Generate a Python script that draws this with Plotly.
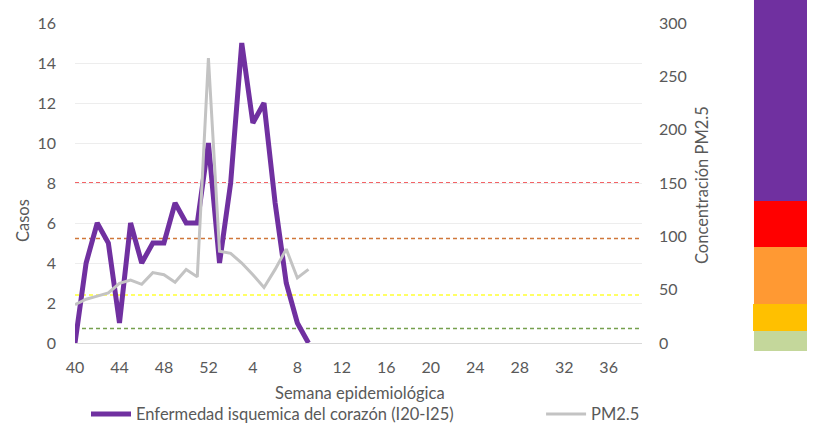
import plotly.graph_objects as go

# Epidemiological weeks: 40-52 of one year, then 1-39 of the next
weeks = [str(w) for w in list(range(40, 53)) + list(range(1, 40))]
tick_weeks = weeks[::4]

# Weekly cases of ischemic heart disease (I20-I25)
cases = [0, 4, 6, 5, 1, 6, 4, 5, 5, 7, 6, 6, 10, 4, 8, 15, 11, 12, 7, 3, 1, 0]

# Weekly PM2.5 concentration
pm25 = [36, 41, 44, 47, 56, 59, 55, 66, 64, 57, 69, 62, 267, 86, 84, 75,
        64, 52, 69, 88, 61, 69]

# PM2.5 reference levels (right axis units) and their colours
thresholds = [13.5, 45, 98, 150]
threshold_colors = ["#76A04E", "#FFFF33", "#D0773A", "#F03035"]

# Air quality scale blocks: (top, bottom) in paper y, colour
scale_blocks = [
    (1.072, 0.444, "#7030A0"),
    (0.444, 0.300, "#FF0000"),
    (0.300, 0.122, "#FF9933"),
    (0.122, 0.0375, "#FFC000"),
    (0.0375, -0.025, "#C4D79B"),
]

FONT = "Lato, 'Open Sans', sans-serif"
TXT = "#595959"
TICK = dict(family=FONT, size=16, color=TXT)
LABEL = dict(family=FONT, size=16.5, color=TXT)

fig = go.Figure()

fig.add_trace(go.Scatter(
    x=weeks[:len(cases)], y=cases, mode="lines",
    name="Enfermedad isquemica del corazón (I20-I25)",
    line=dict(color="#7030A0", width=5),
    yaxis="y", legend="legend",
))
fig.add_trace(go.Scatter(
    x=weeks[:len(pm25)], y=pm25, mode="lines",
    name="PM2.5",
    line=dict(color="#C3C3C3", width=3),
    yaxis="y2", legend="legend2",
))

shapes = []
for val, col in zip(thresholds, threshold_colors):
    shapes.append(dict(
        type="line", xref="x domain", yref="y2", x0=0, x1=1, y0=val, y1=val,
        line=dict(color=col, width=1.5, dash="4px,3px"), layer="below",
    ))

# colour scale drawn at the far right of the figure
x_left, x_right = 1.1975, 1.291
for top, bot, col in scale_blocks:
    xl = 1.1958 if col == "#FFC000" else x_left
    shapes.append(dict(
        type="rect", xref="paper", yref="paper", x0=xl, x1=x_right,
        y0=bot, y1=top, fillcolor=col, line=dict(width=0), layer="below",
    ))

annotations = [
    dict(text="Casos", xref="paper", yref="paper", x=-0.0917, y=0.381,
         textangle=-90, showarrow=False, font=LABEL,
         xanchor="center", yanchor="middle"),
    dict(text="Concentración PM2.5", xref="paper", yref="paper", x=1.106, y=0.494,
         textangle=-90, showarrow=False, font=LABEL,
         xanchor="center", yanchor="middle"),
    dict(text="Semana epidemiológica", xref="paper", yref="paper", x=0.503, y=-0.156,
         showarrow=False, font=LABEL,
         xanchor="center", yanchor="middle"),
]

legend_style = dict(
    orientation="h", y=-0.168, xanchor="left", yanchor="top",
    font=LABEL, itemwidth=40, bgcolor="rgba(0,0,0,0)",
)

fig.update_layout(
    width=818, height=433,
    margin=dict(l=75, r=176, t=23, b=90, autoexpand=False),
    paper_bgcolor="white", plot_bgcolor="white",
    font=dict(family=FONT, size=16, color=TXT),
    showlegend=True,
    legend=dict(x=0.0194, **legend_style),
    legend2=dict(x=0.822, **legend_style),
    xaxis=dict(
        type="category", categoryorder="array", categoryarray=weeks,
        range=[0, len(weeks) - 1], tickmode="array", tickvals=tick_weeks,
        showgrid=False, showline=True, linecolor="#D9D9D9", linewidth=1,
        ticks="", ticklabelstandoff=10, tickfont=TICK,
        zeroline=False,
    ),
    yaxis=dict(
        range=[0, 16], dtick=2, showgrid=True, gridcolor="#EDEDED", gridwidth=1,
        zeroline=False, showline=False, ticks="", ticklabelstandoff=18,
        tickfont=TICK,
    ),
    yaxis2=dict(
        range=[0, 300], dtick=50, overlaying="y", side="right", showgrid=False,
        zeroline=False, showline=False, ticks="", ticklabelstandoff=16,
        tickfont=TICK,
    ),
    shapes=shapes,
    annotations=annotations,
)

fig.write_html("out.html")
